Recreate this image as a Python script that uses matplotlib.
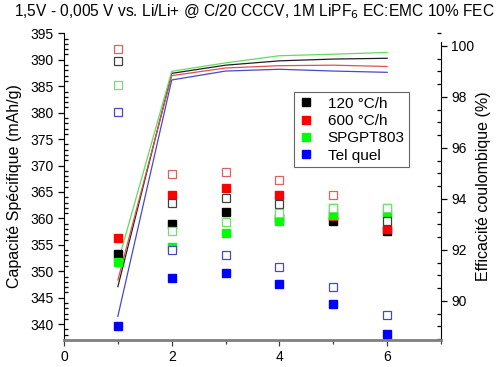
import numpy as np
import matplotlib
matplotlib.use("Agg")
import matplotlib.pyplot as plt
from matplotlib.ticker import MultipleLocator

plt.rcParams['font.family'] = ['Liberation Sans', 'DejaVu Sans']

cycles = [1, 2, 3, 4, 5, 6]
names = ['120 °C/h', '600 °C/h', 'SPGPT803', 'Tel quel']

# capacite de delithiation (symboles pleins), mAh/g
charge_120 = [353.2, 359.0, 361.2, 360.0, 359.5, 357.7]
charge_600 = [356.2, 364.5, 365.7, 364.5, 360.5, 357.9]
charge_spg = [351.8, 354.5, 357.3, 359.5, 360.7, 360.8]
charge_tq = [339.6, 348.7, 349.6, 347.6, 343.8, 338.2]

# capacite de lithiation (symboles vides), mAh/g
disch_120 = [389.8, 363.0, 363.8, 362.8, 361.9, 359.5]
disch_600 = [392.0, 368.4, 368.8, 367.2, 364.4, 361.9]
disch_spg = [385.2, 357.6, 359.4, 361.1, 361.9, 361.9]
disch_tq = [380.1, 354.0, 353.0, 350.9, 347.1, 341.7]

# efficacite coulombique, %
ce_120 = [90.56, 98.92, 99.24, 99.41, 99.48, 99.51]
ce_600 = [90.82, 98.83, 99.13, 99.22, 99.24, 99.19]
ce_spg = [91.5, 99.0, 99.33, 99.61, 99.67, 99.74]
ce_tq = [89.4, 98.66, 99.01, 99.08, 99.01, 98.96]

charges = [charge_120, charge_600, charge_spg, charge_tq]
discharges = [disch_120, disch_600, disch_spg, disch_tq]
ces = [ce_120, ce_600, ce_spg, ce_tq]
colors = ['#000000', '#ff0000', '#00ff00', '#0000ff']
line_colors = ['#202020', '#e05050', '#60dd60', '#4848d0']
open_colors = ['#404040', '#e06060', '#70e070', '#4848c0']

fig = plt.figure(figsize=(5.04, 3.67), dpi=100)
ax = fig.add_axes([0.127, 0.0736, 0.748, 0.8364])
ax2 = ax.twinx()

for i in range(4):
    ax2.plot(cycles, ces[i], color=line_colors[i], lw=0.9, zorder=1)

for i in range(4):
    ax.plot(cycles, charges[i], 's', color=colors[i], ms=5.2, mec=colors[i], zorder=3,
            label=names[i])
for i in range(4):
    ax.plot(cycles, discharges[i], 's', mfc='white', mec=open_colors[i], ms=5.2, mew=0.9,
            zorder=4)

ax.set_xlim(0, 7)
ax.set_ylim(337, 395.06)
ax2.set_ylim(88.47, 100.5)

ax.set_zorder(ax2.get_zorder() + 1)
ax.patch.set_visible(False)

ax.xaxis.set_major_locator(MultipleLocator(2))
ax.xaxis.set_minor_locator(MultipleLocator(1))
ax.yaxis.set_major_locator(MultipleLocator(5))
ax.yaxis.set_minor_locator(MultipleLocator(1))
ax2.yaxis.set_major_locator(MultipleLocator(2))
ax2.yaxis.set_minor_locator(MultipleLocator(0.5))

for a in (ax, ax2):
    a.spines['top'].set_visible(False)
    a.tick_params(which='major', direction='out', length=4, width=0.9, labelsize=10)
    a.tick_params(which='minor', direction='in', length=3, width=0.9)
ax.spines['right'].set_visible(False)
ax2.spines['left'].set_visible(False)
ax2.spines['bottom'].set_visible(False)
ax.spines['bottom'].set_color('#808080')
ax.spines['bottom'].set_linewidth(2)
ax.tick_params(axis='x', which='both', direction='out', color='#404040')
ax2.spines['right'].set_bounds(88.47, 100.15)

ax.set_ylabel('Capacité Spécifique (mAh/g)', fontsize=11.5, labelpad=6)
ax2.set_ylabel('Efficacité coulombique (%)', fontsize=11.5, labelpad=1)

fig.text(0.505, 0.967, '1,5V - 0,005 V vs. Li/Li+ @ C/20 CCCV, 1M LiPF$_6$ EC:EMC 10% FEC',
         ha='center', va='center', fontsize=11.2)

handles, labels = ax.get_legend_handles_labels()
leg = ax.legend(handles, labels, loc='upper left', bbox_to_anchor=(0.61, 0.808),
                fontsize=11, frameon=True, fancybox=False, edgecolor='#404040',
                handlelength=1.0, handletextpad=0.9, borderpad=0.3, labelspacing=0.22,
                borderaxespad=0)
leg.get_frame().set_linewidth(0.8)
for h in leg.legend_handles:
    h.set_markersize(6)

fig.savefig('out.png', dpi=100)
